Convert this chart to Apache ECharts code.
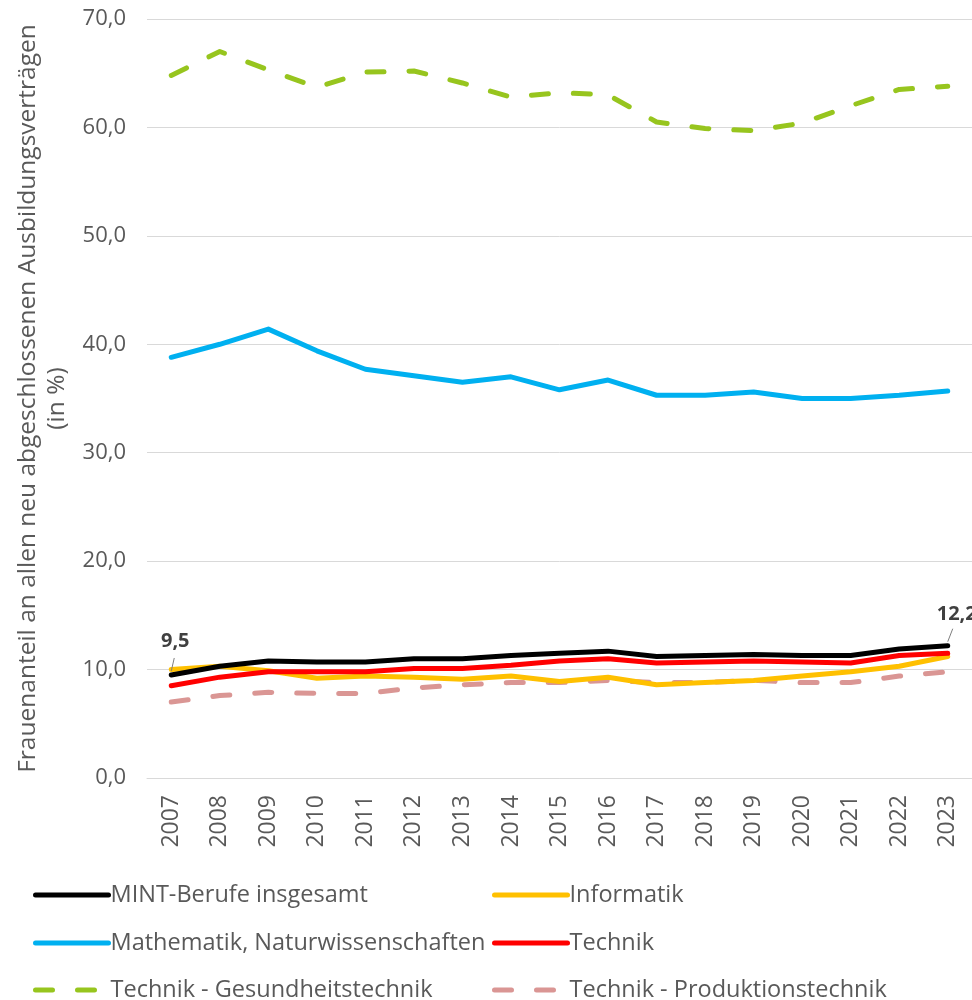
<!DOCTYPE html>
<html><head><meta charset="utf-8">
<script src="https://cdn.jsdelivr.net/npm/echarts@6/dist/echarts.min.js"></script>
<style>html,body{margin:0;padding:0;background:#fff}#c{width:972px;height:1000px}</style>
</head><body><div id="c"></div>
<script>
const years = ['2007','2008','2009','2010','2011','2012','2013','2014','2015','2016','2017','2018','2019','2020','2021','2022','2023'];
const mint = [9.5,10.3,10.8,10.7,10.7,11.0,11.0,11.3,11.5,11.7,11.2,11.3,11.4,11.3,11.3,11.9,12.2];
const informatik = [10.0,10.3,9.9,9.2,9.4,9.3,9.1,9.4,8.9,9.3,8.6,8.8,9.0,9.4,9.8,10.3,11.2];
const mathNat = [38.8,40.0,41.4,39.4,37.7,37.1,36.5,37.0,35.8,36.7,35.3,35.3,35.6,35.0,35.0,35.3,35.7];
const technik = [8.5,9.3,9.8,9.8,9.8,10.1,10.1,10.4,10.8,11.0,10.6,10.7,10.8,10.7,10.6,11.3,11.5];
const gesundheit = [64.8,67.0,65.3,63.7,65.1,65.2,64.1,62.8,63.2,63.0,60.5,59.9,59.7,60.4,62.0,63.5,63.8];
const produktion = [7.0,7.6,7.9,7.8,7.8,8.3,8.6,8.8,8.8,9.0,8.8,8.8,9.0,8.8,8.8,9.4,9.8];
const names = ['MINT-Berufe insgesamt','Informatik','Mathematik, Naturwissenschaften','Technik','Technik - Gesundheitstechnik','Technik - Produktionstechnik'];
const yTicks = {min:0, max:70, interval:10};
const labelIdx = [0, 16];

const fmt = v => v.toFixed(1).replace('.', ',');
const FONT = 'Open Sans';
const txt = '#595959';

function ser(name, data, color, dashed, z) {
  return {
    name, type:'line', data, symbol:'none', z,
    lineStyle:{color, width:5, type: dashed ? [17,25] : 'solid', cap:'round', join:'round'},
    itemStyle:{color},
    emphasis:{disabled:true}
  };
}

const series = [
  ser(names[4], gesundheit, '#97c51e', true, 2),
  ser(names[2], mathNat, '#00b0f0', false, 3),
  ser(names[5], produktion, '#da9694', true, 4),
  ser(names[1], informatik, '#ffc000', false, 5),
  ser(names[3], technik, '#ff0000', false, 6),
  ser(names[0], mint, '#000000', false, 7)
];
const lblOffsets = [[4,-34],[9,-31]];
series[5].markPoint = {
  symbol:'circle', symbolSize:0, silent:true,
  data: labelIdx.map((i,k) => ({coord:[years[i], mint[i]], value:mint[i],
    label:{show:true, position:'inside', offset:lblOffsets[k], formatter: p => fmt(p.value),
      color:'#404040', fontWeight:'bold', fontSize:20, fontFamily:FONT}}))
};

const legPos = [[33,883],[492,883],[33,931],[492,931],[33,978],[492,978]];
const legends = names.map((n,i) => ({
  data:[n], left:legPos[i][0], top:legPos[i][1], padding:0, itemWidth:73, itemHeight:14, itemGap:6,
  itemStyle:{opacity:0}, lineStyle:{width:5, cap:'round'},
  textStyle:{color:txt, fontSize:23.5, fontFamily:FONT, lineHeight:24, padding:[0,0,0,-3]}, selectedMode:false
}));

const chart = echarts.init(document.getElementById('c'), null, {renderer:'canvas'});
chart.setOption({
  animation:false,
  backgroundColor:'#fff',
  grid:{left:147, right:0, top:19, bottom:222, containLabel:false, outerBoundsMode:'none'},
  legend: legends,
  xAxis:{type:'category', data:years, boundaryGap:true,
    axisLine:{lineStyle:{color:'#d9d9d9', width:1}}, axisTick:{show:false},
    axisLabel:{rotate:90, color:txt, fontSize:23, fontFamily:FONT, margin:17}},
  yAxis:{type:'value', min:yTicks.min, max:yTicks.max, interval:yTicks.interval,
    axisLine:{show:false}, axisTick:{show:false},
    splitLine:{lineStyle:{color:'#d9d9d9', width:1}},
    axisLabel:{formatter:fmt, color:txt, fontSize:22, fontFamily:FONT, margin:21},
    name:'Frauenanteil an allen neu abgeschlossenen Ausbildungsverträgen\n(in %)',
    nameLocation:'middle', nameGap:75, nameRotate:90,
    nameTextStyle:{color:txt, fontSize:24.5, fontFamily:FONT, lineHeight:29, align:'center'}},
  series
});

// leader lines for the two data labels, positioned through the chart's own scales
const leaders = labelIdx.map((i,k) => {
  const p = chart.convertToPixel({gridIndex:0}, [years[i], mint[i]]);
  const dx = k === 0 ? 3 : 5;
  return {type:'line', silent:true, z:10,
    shape:{x1:p[0], y1:p[1]-4, x2:p[0]+dx, y2:p[1]-17},
    style:{stroke:'#7f7f7f', lineWidth:1}};
});
chart.setOption({graphic: leaders});
</script></body></html>
